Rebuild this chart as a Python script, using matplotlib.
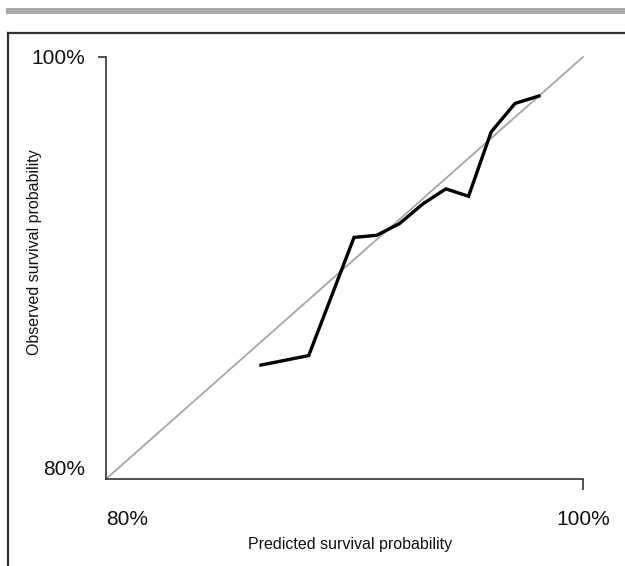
import matplotlib.pyplot as plt
from matplotlib.lines import Line2D
from matplotlib.patches import Rectangle

plt.rcParams['font.family'] = ['Liberation Sans', 'DejaVu Sans']

# calibration curve (percent)
predicted = [86.5, 88.5, 90.4, 91.35, 92.3, 93.3, 94.25, 95.2, 96.15, 97.15, 98.15]
observed = [85.4, 85.85, 91.45, 91.55, 92.1, 93.05, 93.75, 93.4, 96.45, 97.8, 98.15]
ideal = [80, 100]
tick_vals = [80, 100]
tick_labels = ['80%', '100%']

W, H = 625, 566
fig = plt.figure(figsize=(W / 100, H / 100), dpi=100)
fig.patch.set_facecolor('white')

# frame decorations around the figure
fig.patches.append(Rectangle((6 / W, 1 - 14 / H), 1, 6 / H, transform=fig.transFigure,
                             facecolor='#aaaaaa', edgecolor='none'))
fig.lines.append(Line2D([8 / W, 8 / W], [0, 1 - 33 / H], transform=fig.transFigure,
                        color='#333333', lw=1.6))
fig.lines.append(Line2D([8 / W, 1], [1 - 33 / H, 1 - 33 / H], transform=fig.transFigure,
                        color='#333333', lw=1.6))

ax = fig.add_axes([106 / W, 1 - 479 / H, 477 / W, 422 / H])
ax.plot(ideal, ideal, color='#a6a6a6', lw=1.3, clip_on=False)
ax.plot(predicted, observed, color='black', lw=2.4, solid_joinstyle='miter')

ax.set_xlim(80, 100)
ax.set_ylim(80, 100)
for s in ['top', 'right']:
    ax.spines[s].set_visible(False)
for s in ['left', 'bottom']:
    ax.spines[s].set_color('#333333')
    ax.spines[s].set_linewidth(1.2)

ax.set_xticks(tick_vals, tick_labels, fontsize=15)
ax.set_yticks(tick_vals, tick_labels, fontsize=15)
ax.tick_params(axis='x', length=8, width=1.2, color='#333333', pad=14, labelcolor='#111111')
ax.tick_params(axis='y', length=6, width=1.2, color='#333333', pad=9, labelcolor='#111111')

xt = ax.xaxis.get_major_ticks()
xt[0].tick1line.set_visible(False)
xt[0].label1.set_horizontalalignment('left')
yt = ax.yaxis.get_major_ticks()
yt[0].tick1line.set_visible(False)
yt[0].label1.set_verticalalignment('bottom')

fig.text(350 / W, 1 - 545 / H, 'Predicted survival probability', fontsize=11.5,
         ha='center', va='center', color='#111111')
fig.text(35 / W, 1 - 252 / H, 'Observed survival probability', fontsize=11.5,
         ha='center', va='center', rotation=90, color='#111111')

fig.savefig('out.png', dpi=100)
